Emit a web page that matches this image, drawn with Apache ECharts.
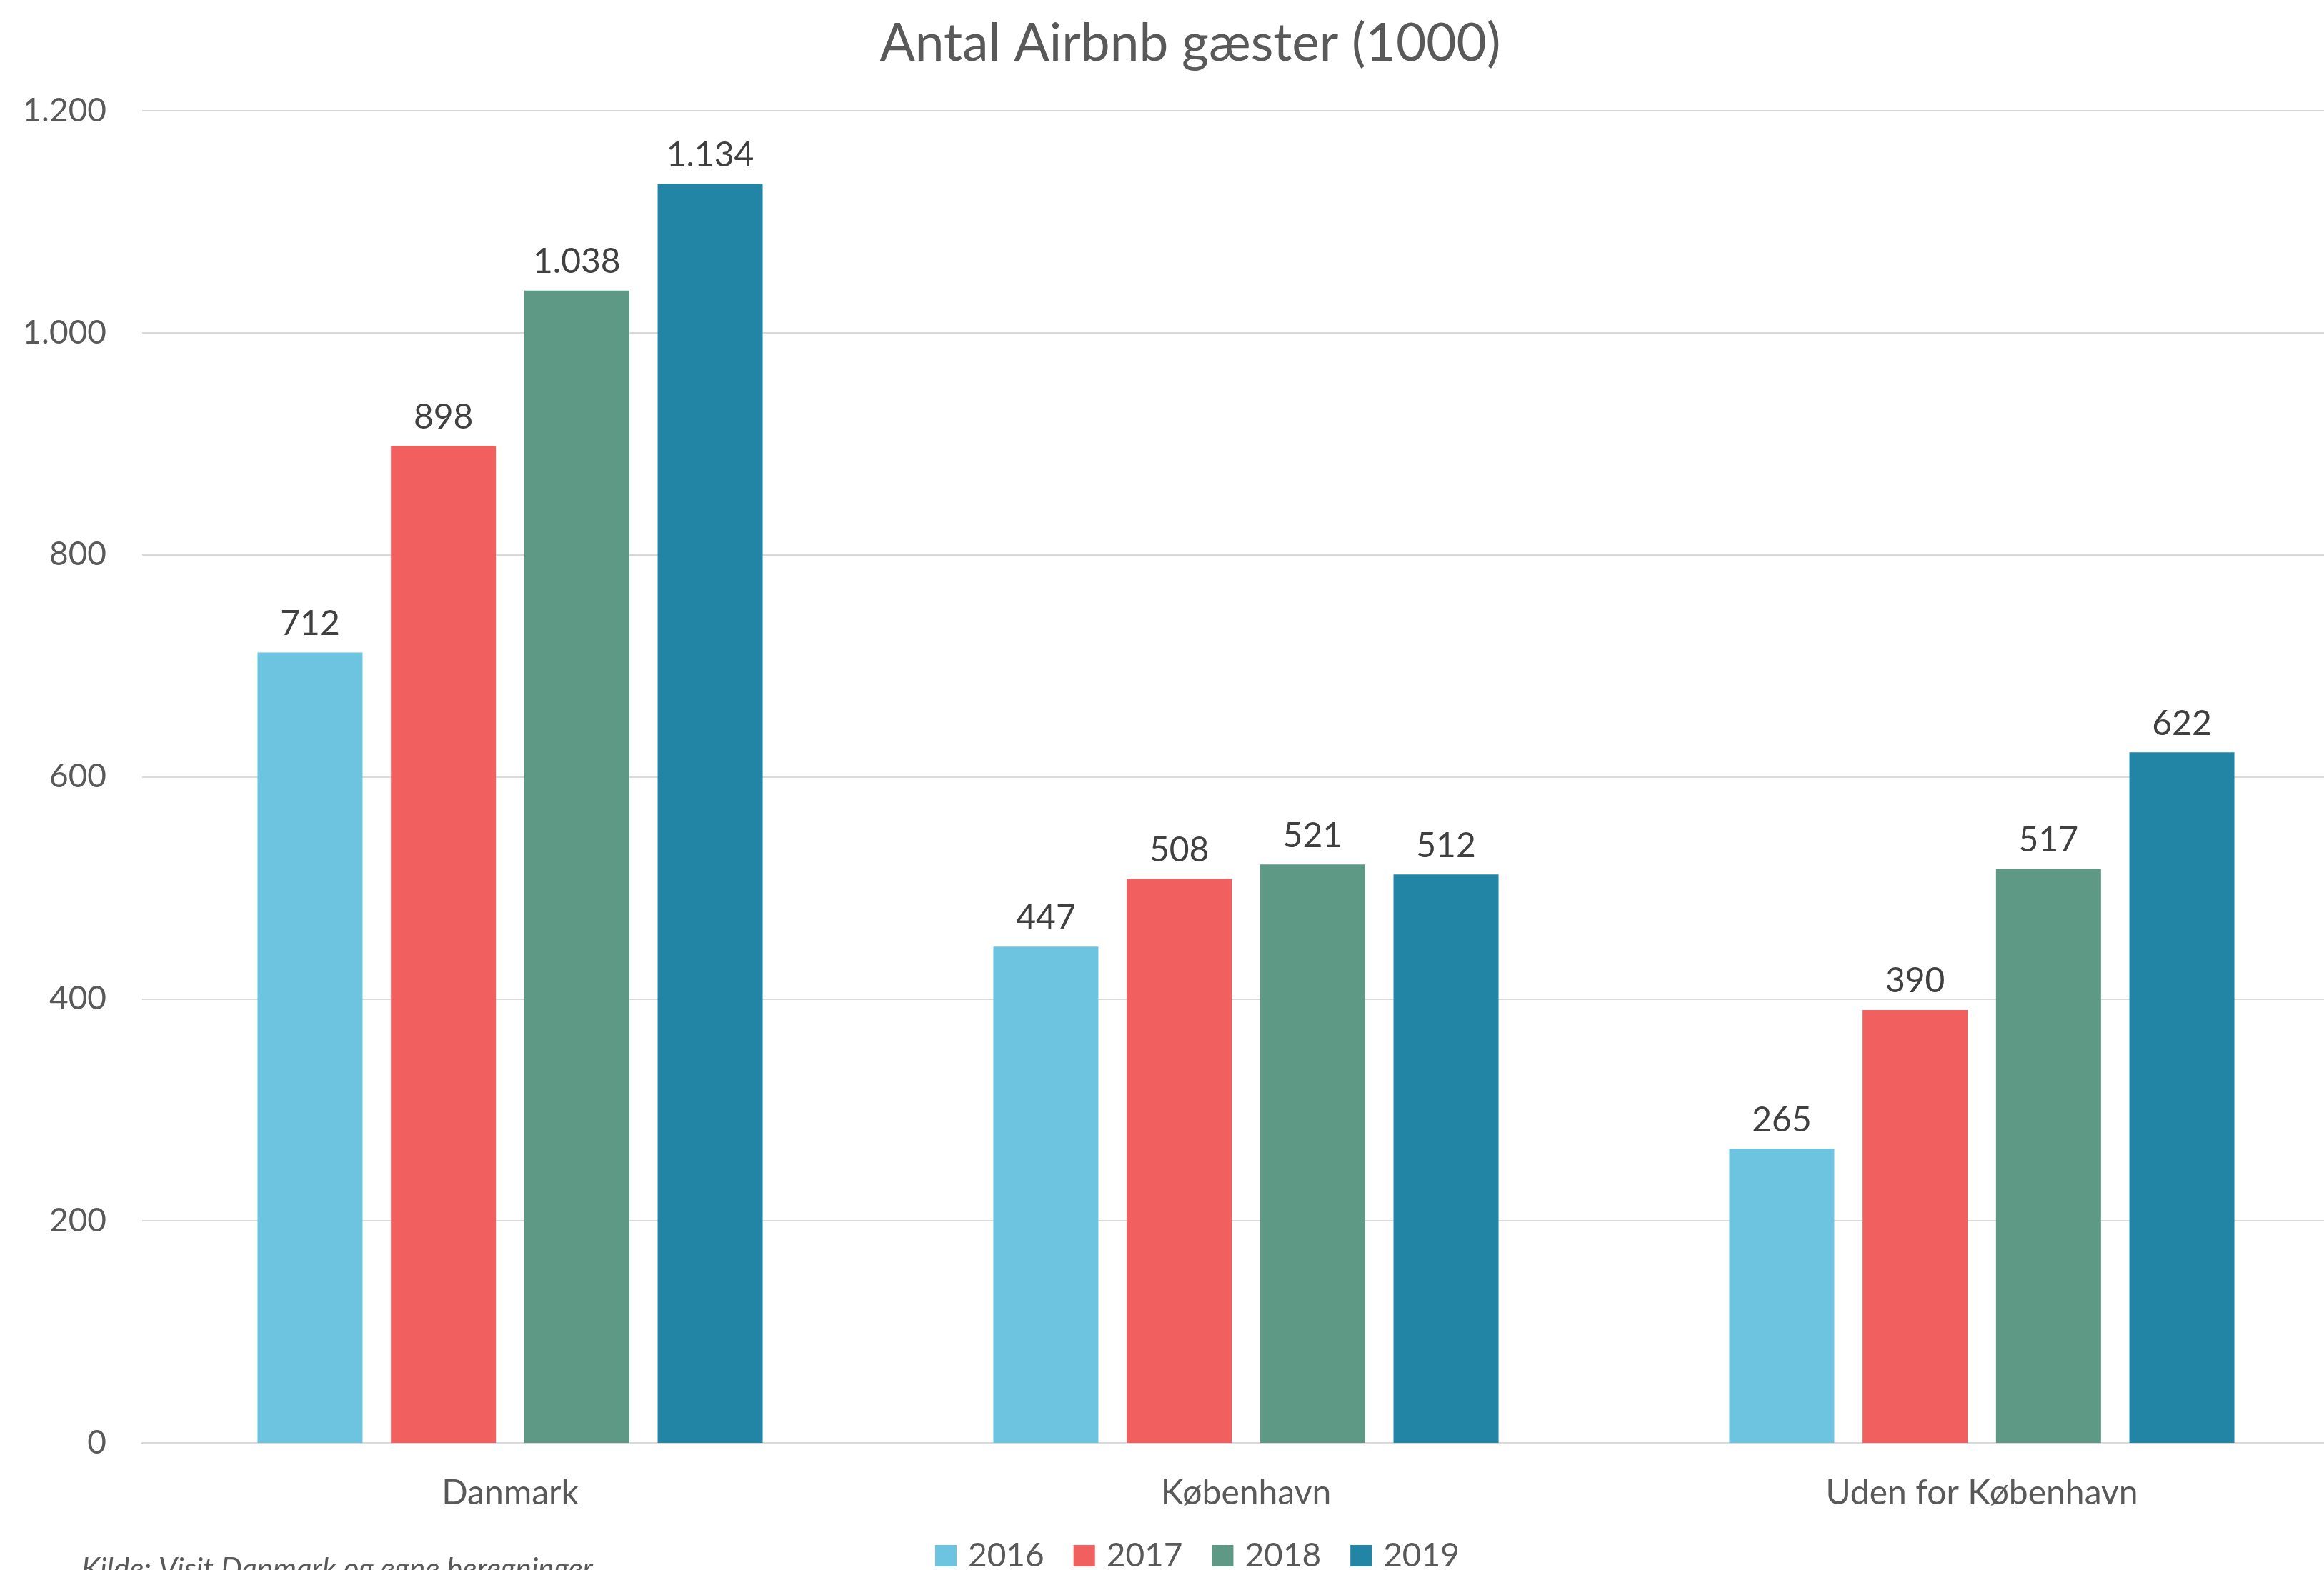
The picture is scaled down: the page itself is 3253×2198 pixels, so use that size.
<!DOCTYPE html>
<html>
<head>
<meta charset="utf-8">
<script src="https://cdn.jsdelivr.net/npm/echarts@6/dist/echarts.min.js"></script>
<style>html,body{margin:0;padding:0;background:#fff}#c{width:3253px;height:2198px}</style>
</head>
<body>
<div id="c"></div>
<script>
const categories = ['Danmark', 'København', 'Uden for København'];
const years = ['2016', '2017', '2018', '2019'];
const v2016 = [712, 447, 265];
const v2017 = [898, 508, 390];
const v2018 = [1038, 521, 517];
const v2019 = [1134, 512, 622];
const colors = ['#6CC4E0', '#F25F5F', '#5E9985', '#2385A5'];
const titleText = 'Antal Airbnb gæster (1000)';
const sourceText = 'Kilde: Visit Danmark og egne beregninger';

const FONT = 'Lato';
function dk(v) { return String(v).replace(/\B(?=(\d{3})+(?!\d))/g, '.'); }

const seriesValues = [v2016, v2017, v2018, v2019];
const chart = echarts.init(document.getElementById('c'), null, { renderer: 'canvas' });
chart.setOption({
  backgroundColor: '#ffffff',
  animation: false,
  title: {
    text: titleText,
    left: 1661,
    textAlign: 'center',
    top: 20,
    textStyle: { fontFamily: FONT, fontSize: 73, fontWeight: 'normal', color: '#595959' }
  },
  legend: {
    data: years,
    left: 1304,
    top: 2150,
    itemWidth: 30,
    itemHeight: 30,
    itemGap: 41,
    icon: 'rect',
    textStyle: { fontFamily: FONT, fontSize: 46, color: '#595959', padding: [0, 0, 0, 11] }
  },
  grid: { left: 199, right: -36, top: 155, bottom: 178, containLabel: false, outerBoundsMode: 'none' },
  xAxis: {
    type: 'category',
    data: categories,
    axisLine: { show: true, lineStyle: { color: '#D9D9D9', width: 3 } },
    axisTick: { show: false },
    axisLabel: { fontFamily: FONT, fontSize: 48, color: '#595959', margin: 47 }
  },
  yAxis: {
    type: 'value',
    min: 0,
    max: 1200,
    interval: 200,
    axisLine: { show: false },
    axisTick: { show: false },
    splitLine: { lineStyle: { color: '#D9D9D9', width: 2 } },
    axisLabel: { fontFamily: FONT, fontSize: 46, color: '#595959', margin: 50, formatter: dk }
  },
  graphic: [{
    type: 'text',
    left: 114,
    top: 2176,
    style: { text: sourceText, font: 'italic 42px Lato', fill: '#595959' }
  }],
  series: years.map((y, i) => ({
    name: y,
    type: 'bar',
    data: seriesValues[i],
    barWidth: 147,
    barGap: '27%',
    itemStyle: { color: colors[i] },
    label: { show: true, position: 'top', distance: 16, fontFamily: FONT, fontSize: 48, color: '#404040', formatter: p => dk(p.value) }
  }))
});
</script>
</body>
</html>
